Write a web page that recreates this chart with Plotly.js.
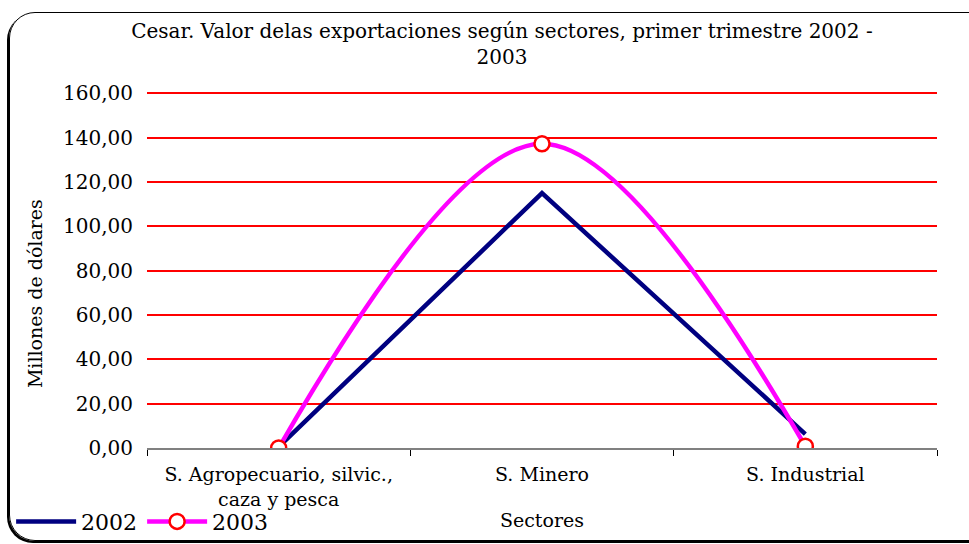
<!DOCTYPE html>
<html>
<head>
<meta charset="utf-8">
<script src="https://cdn.plot.ly/plotly-3.0.1.min.js"></script>
<style>
html,body{margin:0;padding:0;background:#fff;overflow:hidden;}
#frame{position:absolute;left:9px;top:12px;width:990px;height:527px;border:1.5px solid #000;border-radius:26px;box-shadow:-2px 2px 0 #000;}
#chart{position:absolute;left:0;top:0;width:969px;height:544px;}
</style>
</head>
<body>
<div id="frame"></div>
<div id="chart"></div>
<script>
var categories = ["S. Agropecuario, silvic.,<br>caza y pesca", "S. Minero", "S. Industrial"];
var values2002 = [0.5, 115.0, 6.3];
var values2003 = [0.0, 137.3, 0.8];
var seriesNames = ["2002", "2003"];
var yTicks = [0, 20, 40, 60, 80, 100, 120, 140, 160];
var yTitle = "Millones de dólares";

var serif = "DejaVu Serif, serif";

var traces = [
  {
    x: categories, y: values2002, name: seriesNames[0], type: "scatter", mode: "lines",
    line: {color: "#000080", width: 4.5}
  },
  {
    x: categories, y: values2003, name: seriesNames[1], type: "scatter", mode: "lines+markers",
    line: {color: "#FF00FF", width: 4.5, shape: "spline", smoothing: 1},
    marker: {symbol: "circle", size: 15, color: "#FFFFFF", line: {color: "#FF0000", width: 2.5}}
  }
];

var layout = {
  width: 969, height: 544,
  paper_bgcolor: "rgba(0,0,0,0)", plot_bgcolor: "rgba(0,0,0,0)",
  margin: {l: 147, r: 32, t: 89, b: 96, autoexpand: false},
  separators: ",.",
  font: {family: serif, color: "#000", size: 18},
  title: {
    text: "Cesar. Valor delas exportaciones según sectores, primer trimestre 2002 -<br>2003",
    x: 0.518, xref: "container", xanchor: "center",
    y: 0.931, yref: "container", yanchor: "top",
    font: {family: serif, size: 20, color: "#000"}
  },
  xaxis: {
    type: "category", range: [-0.5, 2.5],
    showline: true, linecolor: "#808080", linewidth: 1.5,
    ticks: "outside", tickson: "boundaries", ticklen: 6, tickcolor: "#000", tickwidth: 1,
    ticklabelstandoff: 9,
    showgrid: false, zeroline: false,
    tickfont: {family: serif, size: 19},
    title: {text: "Sectores", font: {family: serif, size: 19}, standoff: 4}
  },
  yaxis: {
    range: [0, 162], tickvals: yTicks, tickformat: ".2f",
    showgrid: true, gridcolor: "#FF0000", gridwidth: 2,
    zeroline: false, showline: false, ticks: "",
    ticklabelstandoff: 13,
    tickfont: {family: serif, size: 20}
  },
  annotations: [{
    text: yTitle, textangle: -90, showarrow: false,
    xref: "paper", yref: "paper", x: -0.142, y: 0.431,
    xanchor: "center", yanchor: "middle",
    font: {family: serif, size: 19, color: "#000"}
  }],
  showlegend: true,
  legend: {
    orientation: "h", x: -0.172, xanchor: "left", y: -0.205, yanchor: "middle",
    font: {family: serif, size: 22}, itemwidth: 60, bgcolor: "rgba(0,0,0,0)",
    tracegroupgap: 0
  }
};

Plotly.newPlot("chart", traces, layout, {displayModeBar: false, staticPlot: true});
</script>
</body>
</html>
